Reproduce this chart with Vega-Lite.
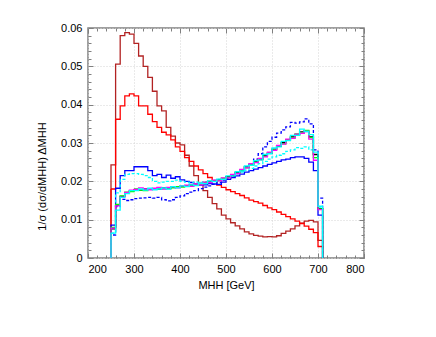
{
"$schema": "https://vega.github.io/schema/vega-lite/v6.json",
"width": 276, "height": 230,
"autosize": {"type": "none"},
"padding": {"left": 88, "top": 28, "right": 72, "bottom": 79},
"background": "white",
"config": {
  "view": {"stroke": "#808080", "strokeWidth": 1.5},
  "axis": {"labelFont": "Liberation Sans", "titleFont": "Liberation Sans", "labelColor": "#000", "titleColor": "#000", "titleFontWeight": "normal", "domain": false}
},
"data": {"values": [
{"s":"DR","x":250,"y":0},{"s":"DR","x":250,"y":0.0243},{"s":"DR","x":260,"y":0.0506},{"s":"DR","x":270,"y":0.058},{"s":"DR","x":280,"y":0.0588},{"s":"DR","x":290,"y":0.0584},{"s":"DR","x":300,"y":0.056},{"s":"DR","x":310,"y":0.0527},{"s":"DR","x":320,"y":0.05},{"s":"DR","x":330,"y":0.0471},{"s":"DR","x":340,"y":0.0435},{"s":"DR","x":350,"y":0.0397},{"s":"DR","x":360,"y":0.0384},{"s":"DR","x":370,"y":0.0341},{"s":"DR","x":380,"y":0.0318},{"s":"DR","x":390,"y":0.03},{"s":"DR","x":400,"y":0.0295},{"s":"DR","x":410,"y":0.0268},{"s":"DR","x":420,"y":0.024},{"s":"DR","x":430,"y":0.0215},{"s":"DR","x":440,"y":0.0195},{"s":"DR","x":450,"y":0.0176},{"s":"DR","x":460,"y":0.0158},{"s":"DR","x":470,"y":0.0142},{"s":"DR","x":480,"y":0.0128},{"s":"DR","x":490,"y":0.0112},{"s":"DR","x":500,"y":0.0102},{"s":"DR","x":510,"y":0.0092},{"s":"DR","x":520,"y":0.0084},{"s":"DR","x":530,"y":0.0076},{"s":"DR","x":540,"y":0.0068},{"s":"DR","x":550,"y":0.0063},{"s":"DR","x":560,"y":0.0059},{"s":"DR","x":570,"y":0.0057},{"s":"DR","x":580,"y":0.0055},{"s":"DR","x":590,"y":0.0056},{"s":"DR","x":600,"y":0.0055},{"s":"DR","x":610,"y":0.0058},{"s":"DR","x":620,"y":0.0064},{"s":"DR","x":630,"y":0.007},{"s":"DR","x":640,"y":0.0076},{"s":"DR","x":650,"y":0.0084},{"s":"DR","x":660,"y":0.0091},{"s":"DR","x":670,"y":0.0096},{"s":"DR","x":680,"y":0.0098},{"s":"DR","x":690,"y":0.0094},{"s":"DR","x":700,"y":0.0046},{"s":"DR","x":710,"y":0},
{"s":"R","x":250,"y":0},{"s":"R","x":250,"y":0.018},{"s":"R","x":260,"y":0.0362},{"s":"R","x":270,"y":0.0397},{"s":"R","x":280,"y":0.0423},{"s":"R","x":290,"y":0.0428},{"s":"R","x":300,"y":0.0423},{"s":"R","x":310,"y":0.0397},{"s":"R","x":320,"y":0.0397},{"s":"R","x":330,"y":0.0375},{"s":"R","x":340,"y":0.0356},{"s":"R","x":350,"y":0.0341},{"s":"R","x":360,"y":0.0328},{"s":"R","x":370,"y":0.0321},{"s":"R","x":380,"y":0.0308},{"s":"R","x":390,"y":0.029},{"s":"R","x":400,"y":0.0278},{"s":"R","x":410,"y":0.0262},{"s":"R","x":420,"y":0.0252},{"s":"R","x":430,"y":0.024},{"s":"R","x":440,"y":0.023},{"s":"R","x":450,"y":0.022},{"s":"R","x":460,"y":0.021},{"s":"R","x":470,"y":0.02},{"s":"R","x":480,"y":0.019},{"s":"R","x":490,"y":0.0184},{"s":"R","x":500,"y":0.0178},{"s":"R","x":510,"y":0.0173},{"s":"R","x":520,"y":0.0168},{"s":"R","x":530,"y":0.0163},{"s":"R","x":540,"y":0.0157},{"s":"R","x":550,"y":0.0151},{"s":"R","x":560,"y":0.0147},{"s":"R","x":570,"y":0.0143},{"s":"R","x":580,"y":0.0137},{"s":"R","x":590,"y":0.0131},{"s":"R","x":600,"y":0.0126},{"s":"R","x":610,"y":0.012},{"s":"R","x":620,"y":0.0114},{"s":"R","x":630,"y":0.0108},{"s":"R","x":640,"y":0.0102},{"s":"R","x":650,"y":0.0096},{"s":"R","x":660,"y":0.009},{"s":"R","x":670,"y":0.0083},{"s":"R","x":680,"y":0.0075},{"s":"R","x":690,"y":0.0066},{"s":"R","x":700,"y":0.003},{"s":"R","x":710,"y":0},
{"s":"B","x":250,"y":0},{"s":"B","x":250,"y":0.0086},{"s":"B","x":260,"y":0.0182},{"s":"B","x":270,"y":0.0215},{"s":"B","x":280,"y":0.0228},{"s":"B","x":290,"y":0.0228},{"s":"B","x":300,"y":0.0238},{"s":"B","x":310,"y":0.0238},{"s":"B","x":320,"y":0.0238},{"s":"B","x":330,"y":0.0228},{"s":"B","x":340,"y":0.0215},{"s":"B","x":350,"y":0.0218},{"s":"B","x":360,"y":0.021},{"s":"B","x":370,"y":0.0216},{"s":"B","x":380,"y":0.0208},{"s":"B","x":390,"y":0.0212},{"s":"B","x":400,"y":0.0204},{"s":"B","x":410,"y":0.02},{"s":"B","x":420,"y":0.0197},{"s":"B","x":430,"y":0.0193},{"s":"B","x":440,"y":0.019},{"s":"B","x":450,"y":0.0191},{"s":"B","x":460,"y":0.0194},{"s":"B","x":470,"y":0.0193},{"s":"B","x":480,"y":0.0192},{"s":"B","x":490,"y":0.0198},{"s":"B","x":500,"y":0.0205},{"s":"B","x":510,"y":0.021},{"s":"B","x":520,"y":0.0214},{"s":"B","x":530,"y":0.0219},{"s":"B","x":540,"y":0.0224},{"s":"B","x":550,"y":0.0228},{"s":"B","x":560,"y":0.0232},{"s":"B","x":570,"y":0.0236},{"s":"B","x":580,"y":0.024},{"s":"B","x":590,"y":0.0244},{"s":"B","x":600,"y":0.0248},{"s":"B","x":610,"y":0.0252},{"s":"B","x":620,"y":0.0256},{"s":"B","x":630,"y":0.0258},{"s":"B","x":640,"y":0.0262},{"s":"B","x":650,"y":0.0264},{"s":"B","x":660,"y":0.0264},{"s":"B","x":670,"y":0.026},{"s":"B","x":680,"y":0.025},{"s":"B","x":690,"y":0.0228},{"s":"B","x":700,"y":0.0112},{"s":"B","x":710,"y":0},
{"s":"BD","x":250,"y":0},{"s":"BD","x":250,"y":0.006},{"s":"BD","x":260,"y":0.0134},{"s":"BD","x":270,"y":0.0153},{"s":"BD","x":280,"y":0.015},{"s":"BD","x":290,"y":0.0152},{"s":"BD","x":300,"y":0.0155},{"s":"BD","x":310,"y":0.0156},{"s":"BD","x":320,"y":0.0157},{"s":"BD","x":330,"y":0.0158},{"s":"BD","x":340,"y":0.0156},{"s":"BD","x":350,"y":0.0158},{"s":"BD","x":360,"y":0.0152},{"s":"BD","x":370,"y":0.0149},{"s":"BD","x":380,"y":0.0152},{"s":"BD","x":390,"y":0.0158},{"s":"BD","x":400,"y":0.0162},{"s":"BD","x":410,"y":0.0168},{"s":"BD","x":420,"y":0.0172},{"s":"BD","x":430,"y":0.0176},{"s":"BD","x":440,"y":0.0181},{"s":"BD","x":450,"y":0.0185},{"s":"BD","x":460,"y":0.0188},{"s":"BD","x":470,"y":0.0192},{"s":"BD","x":480,"y":0.0197},{"s":"BD","x":490,"y":0.0203},{"s":"BD","x":500,"y":0.0208},{"s":"BD","x":510,"y":0.0214},{"s":"BD","x":520,"y":0.022},{"s":"BD","x":530,"y":0.0228},{"s":"BD","x":540,"y":0.0236},{"s":"BD","x":550,"y":0.0246},{"s":"BD","x":560,"y":0.0258},{"s":"BD","x":570,"y":0.0272},{"s":"BD","x":580,"y":0.029},{"s":"BD","x":590,"y":0.0304},{"s":"BD","x":600,"y":0.0315},{"s":"BD","x":610,"y":0.0326},{"s":"BD","x":620,"y":0.0334},{"s":"BD","x":630,"y":0.0342},{"s":"BD","x":640,"y":0.0354},{"s":"BD","x":650,"y":0.0352},{"s":"BD","x":660,"y":0.0355},{"s":"BD","x":670,"y":0.0363},{"s":"BD","x":680,"y":0.035},{"s":"BD","x":690,"y":0.0282},{"s":"BD","x":700,"y":0.0156},{"s":"BD","x":710,"y":0},
{"s":"CD","x":250,"y":0},{"s":"CD","x":250,"y":0.0065},{"s":"CD","x":260,"y":0.017},{"s":"CD","x":270,"y":0.0205},{"s":"CD","x":280,"y":0.0218},{"s":"CD","x":290,"y":0.022},{"s":"CD","x":300,"y":0.022},{"s":"CD","x":310,"y":0.0218},{"s":"CD","x":320,"y":0.0215},{"s":"CD","x":330,"y":0.021},{"s":"CD","x":340,"y":0.02},{"s":"CD","x":350,"y":0.0196},{"s":"CD","x":360,"y":0.0198},{"s":"CD","x":370,"y":0.02},{"s":"CD","x":380,"y":0.02},{"s":"CD","x":390,"y":0.0203},{"s":"CD","x":400,"y":0.02},{"s":"CD","x":410,"y":0.0198},{"s":"CD","x":420,"y":0.0196},{"s":"CD","x":430,"y":0.0198},{"s":"CD","x":440,"y":0.0197},{"s":"CD","x":450,"y":0.0199},{"s":"CD","x":460,"y":0.02},{"s":"CD","x":470,"y":0.0203},{"s":"CD","x":480,"y":0.0205},{"s":"CD","x":490,"y":0.0207},{"s":"CD","x":500,"y":0.0212},{"s":"CD","x":510,"y":0.0216},{"s":"CD","x":520,"y":0.022},{"s":"CD","x":530,"y":0.0224},{"s":"CD","x":540,"y":0.0229},{"s":"CD","x":550,"y":0.0234},{"s":"CD","x":560,"y":0.024},{"s":"CD","x":570,"y":0.0246},{"s":"CD","x":580,"y":0.0252},{"s":"CD","x":590,"y":0.0258},{"s":"CD","x":600,"y":0.0264},{"s":"CD","x":610,"y":0.0268},{"s":"CD","x":620,"y":0.0272},{"s":"CD","x":630,"y":0.0278},{"s":"CD","x":640,"y":0.0282},{"s":"CD","x":650,"y":0.0288},{"s":"CD","x":660,"y":0.0286},{"s":"CD","x":670,"y":0.029},{"s":"CD","x":680,"y":0.0282},{"s":"CD","x":690,"y":0.0262},{"s":"CD","x":700,"y":0.0133},{"s":"CD","x":710,"y":0},
{"s":"K","x":250,"y":0},{"s":"K","x":250,"y":0.0076},{"s":"K","x":260,"y":0.0138},{"s":"K","x":270,"y":0.0161},{"s":"K","x":280,"y":0.0169},{"s":"K","x":290,"y":0.0176},{"s":"K","x":300,"y":0.0177},{"s":"K","x":310,"y":0.0177},{"s":"K","x":320,"y":0.018},{"s":"K","x":330,"y":0.0179},{"s":"K","x":340,"y":0.0181},{"s":"K","x":350,"y":0.018},{"s":"K","x":360,"y":0.0183},{"s":"K","x":370,"y":0.0181},{"s":"K","x":380,"y":0.0185},{"s":"K","x":390,"y":0.0186},{"s":"K","x":400,"y":0.0187},{"s":"K","x":410,"y":0.0187},{"s":"K","x":420,"y":0.019},{"s":"K","x":430,"y":0.019},{"s":"K","x":440,"y":0.0194},{"s":"K","x":450,"y":0.0195},{"s":"K","x":460,"y":0.02},{"s":"K","x":470,"y":0.02},{"s":"K","x":480,"y":0.0204},{"s":"K","x":490,"y":0.0206},{"s":"K","x":500,"y":0.0212},{"s":"K","x":510,"y":0.0215},{"s":"K","x":520,"y":0.0223},{"s":"K","x":530,"y":0.0228},{"s":"K","x":540,"y":0.0238},{"s":"K","x":550,"y":0.0243},{"s":"K","x":560,"y":0.0252},{"s":"K","x":570,"y":0.0257},{"s":"K","x":580,"y":0.0267},{"s":"K","x":590,"y":0.0273},{"s":"K","x":600,"y":0.0284},{"s":"K","x":610,"y":0.0291},{"s":"K","x":620,"y":0.0301},{"s":"K","x":630,"y":0.0307},{"s":"K","x":640,"y":0.0316},{"s":"K","x":650,"y":0.0321},{"s":"K","x":660,"y":0.0329},{"s":"K","x":670,"y":0.0331},{"s":"K","x":680,"y":0.0316},{"s":"K","x":690,"y":0.027},{"s":"K","x":700,"y":0.0129},{"s":"K","x":710,"y":0},
{"s":"G","x":250,"y":0},{"s":"G","x":250,"y":0.008},{"s":"G","x":260,"y":0.014},{"s":"G","x":270,"y":0.0162},{"s":"G","x":280,"y":0.0172},{"s":"G","x":290,"y":0.0173},{"s":"G","x":300,"y":0.018},{"s":"G","x":310,"y":0.0177},{"s":"G","x":320,"y":0.0176},{"s":"G","x":330,"y":0.0181},{"s":"G","x":340,"y":0.0179},{"s":"G","x":350,"y":0.0182},{"s":"G","x":360,"y":0.0181},{"s":"G","x":370,"y":0.0183},{"s":"G","x":380,"y":0.0183},{"s":"G","x":390,"y":0.0186},{"s":"G","x":400,"y":0.0185},{"s":"G","x":410,"y":0.0189},{"s":"G","x":420,"y":0.0188},{"s":"G","x":430,"y":0.0192},{"s":"G","x":440,"y":0.0192},{"s":"G","x":450,"y":0.0197},{"s":"G","x":460,"y":0.0198},{"s":"G","x":470,"y":0.0202},{"s":"G","x":480,"y":0.0202},{"s":"G","x":490,"y":0.0208},{"s":"G","x":500,"y":0.021},{"s":"G","x":510,"y":0.0217},{"s":"G","x":520,"y":0.0221},{"s":"G","x":530,"y":0.023},{"s":"G","x":540,"y":0.0236},{"s":"G","x":550,"y":0.0245},{"s":"G","x":560,"y":0.025},{"s":"G","x":570,"y":0.0259},{"s":"G","x":580,"y":0.0265},{"s":"G","x":590,"y":0.0275},{"s":"G","x":600,"y":0.0282},{"s":"G","x":610,"y":0.0293},{"s":"G","x":620,"y":0.0298},{"s":"G","x":630,"y":0.0309},{"s":"G","x":640,"y":0.0313},{"s":"G","x":650,"y":0.0324},{"s":"G","x":660,"y":0.0326},{"s":"G","x":670,"y":0.0333},{"s":"G","x":680,"y":0.0314},{"s":"G","x":690,"y":0.0262},{"s":"G","x":700,"y":0.0128},{"s":"G","x":710,"y":0},
{"s":"M","x":250,"y":0},{"s":"M","x":250,"y":0.0078},{"s":"M","x":260,"y":0.0136},{"s":"M","x":270,"y":0.0159},{"s":"M","x":280,"y":0.0171},{"s":"M","x":290,"y":0.0177},{"s":"M","x":300,"y":0.0179},{"s":"M","x":310,"y":0.0183},{"s":"M","x":320,"y":0.018},{"s":"M","x":330,"y":0.0178},{"s":"M","x":340,"y":0.0182},{"s":"M","x":350,"y":0.0184},{"s":"M","x":360,"y":0.018},{"s":"M","x":370,"y":0.0184},{"s":"M","x":380,"y":0.0186},{"s":"M","x":390,"y":0.0183},{"s":"M","x":400,"y":0.0188},{"s":"M","x":410,"y":0.019},{"s":"M","x":420,"y":0.0187},{"s":"M","x":430,"y":0.0193},{"s":"M","x":440,"y":0.0191},{"s":"M","x":450,"y":0.0198},{"s":"M","x":460,"y":0.0197},{"s":"M","x":470,"y":0.0203},{"s":"M","x":480,"y":0.0201},{"s":"M","x":490,"y":0.0209},{"s":"M","x":500,"y":0.0209},{"s":"M","x":510,"y":0.0218},{"s":"M","x":520,"y":0.022},{"s":"M","x":530,"y":0.0231},{"s":"M","x":540,"y":0.0235},{"s":"M","x":550,"y":0.0246},{"s":"M","x":560,"y":0.0249},{"s":"M","x":570,"y":0.026},{"s":"M","x":580,"y":0.0264},{"s":"M","x":590,"y":0.0276},{"s":"M","x":600,"y":0.0281},{"s":"M","x":610,"y":0.0294},{"s":"M","x":620,"y":0.0297},{"s":"M","x":630,"y":0.031},{"s":"M","x":640,"y":0.0312},{"s":"M","x":650,"y":0.0323},{"s":"M","x":660,"y":0.0325},{"s":"M","x":670,"y":0.033},{"s":"M","x":680,"y":0.031},{"s":"M","x":690,"y":0.0255},{"s":"M","x":700,"y":0.0126},{"s":"M","x":710,"y":0},
{"s":"C","x":250,"y":0},{"s":"C","x":250,"y":0.0065},{"s":"C","x":260,"y":0.0125},{"s":"C","x":270,"y":0.0158},{"s":"C","x":280,"y":0.0168},{"s":"C","x":290,"y":0.0176},{"s":"C","x":300,"y":0.0176},{"s":"C","x":310,"y":0.018},{"s":"C","x":320,"y":0.0177},{"s":"C","x":330,"y":0.0182},{"s":"C","x":340,"y":0.0178},{"s":"C","x":350,"y":0.018},{"s":"C","x":360,"y":0.0183},{"s":"C","x":370,"y":0.018},{"s":"C","x":380,"y":0.0186},{"s":"C","x":390,"y":0.0183},{"s":"C","x":400,"y":0.0188},{"s":"C","x":410,"y":0.0186},{"s":"C","x":420,"y":0.0191},{"s":"C","x":430,"y":0.0189},{"s":"C","x":440,"y":0.0195},{"s":"C","x":450,"y":0.0194},{"s":"C","x":460,"y":0.0201},{"s":"C","x":470,"y":0.0199},{"s":"C","x":480,"y":0.0206},{"s":"C","x":490,"y":0.0205},{"s":"C","x":500,"y":0.0214},{"s":"C","x":510,"y":0.0214},{"s":"C","x":520,"y":0.0225},{"s":"C","x":530,"y":0.0227},{"s":"C","x":540,"y":0.024},{"s":"C","x":550,"y":0.0242},{"s":"C","x":560,"y":0.0254},{"s":"C","x":570,"y":0.0256},{"s":"C","x":580,"y":0.027},{"s":"C","x":590,"y":0.0272},{"s":"C","x":600,"y":0.0287},{"s":"C","x":610,"y":0.029},{"s":"C","x":620,"y":0.0304},{"s":"C","x":630,"y":0.0306},{"s":"C","x":640,"y":0.032},{"s":"C","x":650,"y":0.032},{"s":"C","x":660,"y":0.0336},{"s":"C","x":670,"y":0.033},{"s":"C","x":680,"y":0.0322},{"s":"C","x":690,"y":0.0276},{"s":"C","x":700,"y":0.0135},{"s":"C","x":710,"y":0}
]},
"layer": [
  {
    "mark": {"type": "line", "interpolate": "step-after", "strokeWidth": 1.3},
    "encoding": {
      "x": {"field": "x", "type": "quantitative", "scale": {"domain": [200, 800], "nice": false, "zero": false},
        "axis": {"orient": "bottom", "values": [200,300,400,500,600,700,800], "ticks": false, "tickSize": 0, "grid": true, "gridDash": [1,2], "gridColor": "#d4d4d4", "labelFontSize": 11, "labelPadding": 5, "title": "MHH [GeV]", "titleFontSize": 11, "titleX": 138, "titleY": 27, "titleBaseline": "middle", "titleAlign": "center"}},
      "y": {"field": "y", "type": "quantitative", "scale": {"domain": [0, 0.06], "nice": false},
        "axis": {"orient": "left", "values": [0,0.01,0.02,0.03,0.04,0.05,0.06], "format": ".2~f", "ticks": false, "tickSize": 0, "grid": true, "gridDash": [1,2], "gridColor": "#d4d4d4", "labelFontSize": 11, "labelPadding": 6, "title": "1/σ (dσ/dMHH) ΔMHH", "titleFontSize": 11, "titleX": -46, "titleY": 148, "titleBaseline": "middle", "titleAlign": "center", "titleAngle": 270}},
      "color": {"field": "s", "type": "nominal", "legend": null, "scale": {"domain": ["DR","R","B","BD","CD","K","G","M","C"], "range": ["#b22222","#ff0000","#0000ff","#0000ff","#00ffff","#000000","#00ff00","#ff00ff","#00ffff"]}},
      "strokeDash": {"field": "s", "type": "nominal", "legend": null, "scale": {"domain": ["DR","R","B","BD","CD","K","G","M","C"], "range": [[1,0],[1,0],[1,0],[3,2],[3,2],[1,0],[1,0],[1,0],[1,0]]}},
      "order": {"value": null}
    }
  },
  {
    "mark": {"type": "point", "opacity": 0},
    "encoding": {
      "x": {"field": "x", "type": "quantitative", "axis": {"orient": "bottom", "values": [200,300,400,500,600,700,800], "labels": false, "grid": false, "ticks": true, "tickSize": 5, "tickColor": "#808080", "offset": -5, "title": null}},
      "y": {"field": "y", "type": "quantitative", "axis": {"orient": "left", "values": [0,0.01,0.02,0.03,0.04,0.05,0.06], "labels": false, "grid": false, "ticks": true, "tickSize": 5, "tickColor": "#808080", "offset": -5, "title": null}}
    }
  },
  {
    "mark": {"type": "point", "opacity": 0},
    "encoding": {
      "x": {"field": "x", "type": "quantitative", "axis": {"orient": "top", "values": [200,300,400,500,600,700,800], "labels": false, "grid": false, "ticks": true, "tickSize": 5, "tickColor": "#808080", "offset": -5, "title": null}},
      "y": {"field": "y", "type": "quantitative", "axis": {"orient": "right", "values": [0,0.01,0.02,0.03,0.04,0.05,0.06], "labels": false, "grid": false, "ticks": true, "tickSize": 5, "tickColor": "#808080", "offset": -5, "title": null}}
    }
  },
  {
    "mark": {"type": "point", "opacity": 0},
    "encoding": {
      "x": {"field": "x", "type": "quantitative", "axis": {"orient": "bottom", "values": [220,240,260,280,320,340,360,380,420,440,460,480,520,540,560,580,620,640,660,680,720,740,760,780], "labels": false, "grid": false, "ticks": true, "tickSize": 3, "tickColor": "#808080", "offset": -3, "title": null}},
      "y": {"field": "y", "type": "quantitative", "axis": {"orient": "left", "values": [0.002,0.004,0.006,0.008,0.012,0.014,0.016,0.018,0.022,0.024,0.026,0.028,0.032,0.034,0.036,0.038,0.042,0.044,0.046,0.048,0.052,0.054,0.056,0.058], "labels": false, "grid": false, "ticks": true, "tickSize": 3, "tickColor": "#808080", "offset": -3, "title": null}}
    }
  },
  {
    "mark": {"type": "point", "opacity": 0},
    "encoding": {
      "x": {"field": "x", "type": "quantitative", "axis": {"orient": "top", "values": [220,240,260,280,320,340,360,380,420,440,460,480,520,540,560,580,620,640,660,680,720,740,760,780], "labels": false, "grid": false, "ticks": true, "tickSize": 3, "tickColor": "#808080", "offset": -3, "title": null}},
      "y": {"field": "y", "type": "quantitative", "axis": {"orient": "right", "values": [0.002,0.004,0.006,0.008,0.012,0.014,0.016,0.018,0.022,0.024,0.026,0.028,0.032,0.034,0.036,0.038,0.042,0.044,0.046,0.048,0.052,0.054,0.056,0.058], "labels": false, "grid": false, "ticks": true, "tickSize": 3, "tickColor": "#808080", "offset": -3, "title": null}}
    }
  }
],
"resolve": {"axis": {"x": "independent", "y": "independent"}}
}
